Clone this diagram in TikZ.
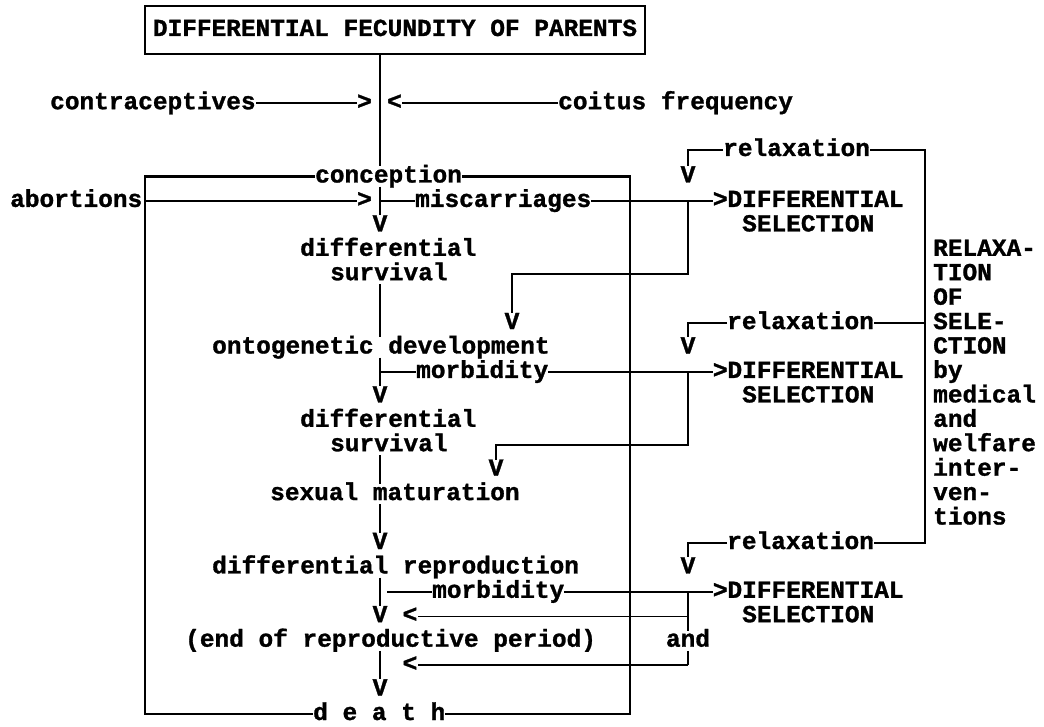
\documentclass[tikz,border=0pt]{standalone}
\usepackage{fontspec}
\newfontfamily\monofnt{Liberation Mono}[BoldFeatures={FakeBold=1.2}]
\begin{document}
\begin{tikzpicture}[x=1pt,y=-1pt,
  txt/.style={font=\monofnt\bfseries\fontsize{24.45}{29}\selectfont, inner sep=0pt, text height=16pt, text depth=4pt, anchor=base west},
  ch/.style={txt, anchor=base},
  ln/.style={line width=1.4pt},
  vl/.style={line width=2.4pt},
  rv/.style={line width=2pt},
  boxline/.style={line width=2.4pt},
  topbox/.style={txt, anchor=center, draw, line width=2pt, minimum width=500pt, minimum height=48pt}]
\useasboundingbox (0,0) rectangle (1044,727);
% top
\node[topbox] (top) at (395,30) {DIFFERENTIAL FECUNDITY OF PARENTS};
\node[txt] (contr) at (50,109.2) {contraceptives};
\node[ch] (gtC) at (364.5,109.2) {>};
\node[ch] (ltC) at (394.5,109.2) {<};
\node[txt] (coitus) at (558,109.2) {coitus frequency};
% main column
\node[txt] (conc) at (315,182.5) {conception};
\node[txt] (abort) at (10,206.9) {abortions};
\node[ch] (gtA) at (364.5,206.9) {>};
\node[txt] (misc) at (415,206.9) {miscarriages};
\node[ch] (v2) at (380,231.4) {V};
\node[txt] (dif1) at (300,255.8) {differential};
\node[txt] (surv1) at (330,280.2) {survival};
\node[ch] (vA) at (512,329.1) {V};
\node[txt] (onto) at (212,353.5) {ontogenetic development};
\node[txt] (morb1) at (416,377.9) {morbidity};
\node[ch] (v9) at (380,402.4) {V};
\node[txt] (dif2) at (300,426.8) {differential};
\node[txt] (surv2) at (330,451.2) {survival};
\node[ch] (vB) at (496,475.7) {V};
\node[txt] (sex) at (270,500.1) {sexual maturation};
\node[ch] (v15) at (380,549.0) {V};
\node[txt] (difrep) at (212,573.4) {differential reproduction};
\node[txt] (morb2) at (432,597.8) {morbidity};
\node[ch] (v18) at (380,622.2) {V};
\node[ch] (lt1) at (410,622.2) {<};
\node[txt] (endp) at (185,646.7) {(end of reproductive period)};
\node[ch] (lt2) at (410,671.1) {<};
\node[ch] (v21) at (380,695.5) {V};
\node[txt] (death) at (313,720.0) {d e a t h};
% right column
\node[txt] (relax1) at (723,156) {relaxation};
\node[ch] (vR0) at (688,182.5) {V};
\node[txt] (gt1) at (712.7,206.9) {>};
\node[txt] (diff1) at (727.3,206.9) {DIFFERENTIAL};
\node[txt] (sel1) at (742,231.4) {SELECTION};
\node[txt] (relax2) at (727,329.1) {relaxation};
\node[ch] (vR1) at (688,353.5) {V};
\node[txt] (gt2) at (712.7,377.9) {>};
\node[txt] (diff2) at (727.3,377.9) {DIFFERENTIAL};
\node[txt] (sel2) at (742,402.4) {SELECTION};
\node[txt] (relax3) at (727,549.0) {relaxation};
\node[ch] (vR2) at (688,573.4) {V};
\node[txt] (gt3) at (712.7,597.8) {>};
\node[txt] (diff3) at (727.3,597.8) {DIFFERENTIAL};
\node[txt] (sel3) at (742,622.2) {SELECTION};
\node[ch] (and) at (688,646.7) {and};
% relaxation of selection column
\node[txt] (r3) at (933,255.8) {RELAXA-};
\node[txt] (r4) at (933,280.2) {TION};
\node[txt] (r5) at (933,304.7) {OF};
\node[txt] (r6) at (933,329.1) {SELE-};
\node[txt] (r7) at (933,353.5) {CTION};
\node[txt] (r8) at (933,377.9) {by};
\node[txt] (r9) at (933,402.4) {medical};
\node[txt] (r10) at (933,426.8) {and};
\node[txt] (r11) at (933,451.2) {welfare};
\node[txt] (r12) at (933,475.7) {inter-};
\node[txt] (r13) at (933,500.1) {ven-};
\node[txt] (r14) at (933,524.5) {tions};
\coordinate (bl) at (145,400);
\coordinate (br) at (630,400);
\coordinate (rl) at (925,400);
% big box
\draw[boxline] (conc.west) -- (conc.west -| bl) -- (bl |- death.west) -- (death.west);
\draw[boxline] (conc.east) -- (conc.east -| br) -- (br |- death.east) -- (death.east);
% main vertical flow
\draw[vl] (v2 |- top.south) -- (v2 |- conc.north);
\draw[vl] (v2 |- conc.south) -- (v2.north);
\draw[ln] (v2 |- misc.west) -- (misc.west);
\draw[vl] (v9 |- surv1.south) -- (v9 |- onto.north);
\draw[vl] (v9 |- onto.south) -- (v9.north);
\draw[ln] (v9 |- morb1.west) -- (morb1.west);
\draw[vl] (v15 |- surv2.south) -- (v15 |- sex.north);
\draw[vl] (v15 |- sex.south) -- (v15.north);
\draw[vl] (v18 |- difrep.south) -- (v18.north);
\draw[ln] ([xshift=7pt]v18 |- morb2.west) -- (morb2.west);
\draw[vl] (v21 |- endp.south) -- (v21.north);
% side inputs
\draw[ln] (contr.east) -- (gtC.west);
\draw[ln] (coitus.west) -- (ltC.east);
\draw[ln] (abort.east -| bl) -- (gtA.west);
% differential selection branches
\draw[ln] (misc.east) -- (gt1.west);
\draw[rv] (vR0 |- gt1.west) -- (vR0 |- surv1.west) -| (vA.north);
\draw[rv] (relax1.west) -| (vR0.north);
\draw[ln] (morb1.east) -- (gt2.west);
\draw[rv] (vR1 |- gt2.west) -- (vR1 |- surv2.west) -| (vB.north);
\draw[rv] (relax2.west) -| (vR1.north);
\draw[ln] (morb2.east) -- (gt3.west);
\draw[rv] (relax3.west) -| (vR2.north);
\draw[rv] (vR2 |- gt3.west) -- (and.north);
\draw[ln] (vR2 |- lt1.east) -- (lt1.east);
\draw[rv] (and.south) -- (and.south |- lt2.east);
\draw[ln] (and.south |- lt2.east) -- (lt2.east);
% relaxation of selection bracket
\draw[rv] (relax1.east) -- (rl |- relax1.east) -- (rl |- relax3.east) -- (relax3.east);
\draw[ln] (relax2.east) -- (rl |- relax2.east);
\end{tikzpicture}
\end{document}
